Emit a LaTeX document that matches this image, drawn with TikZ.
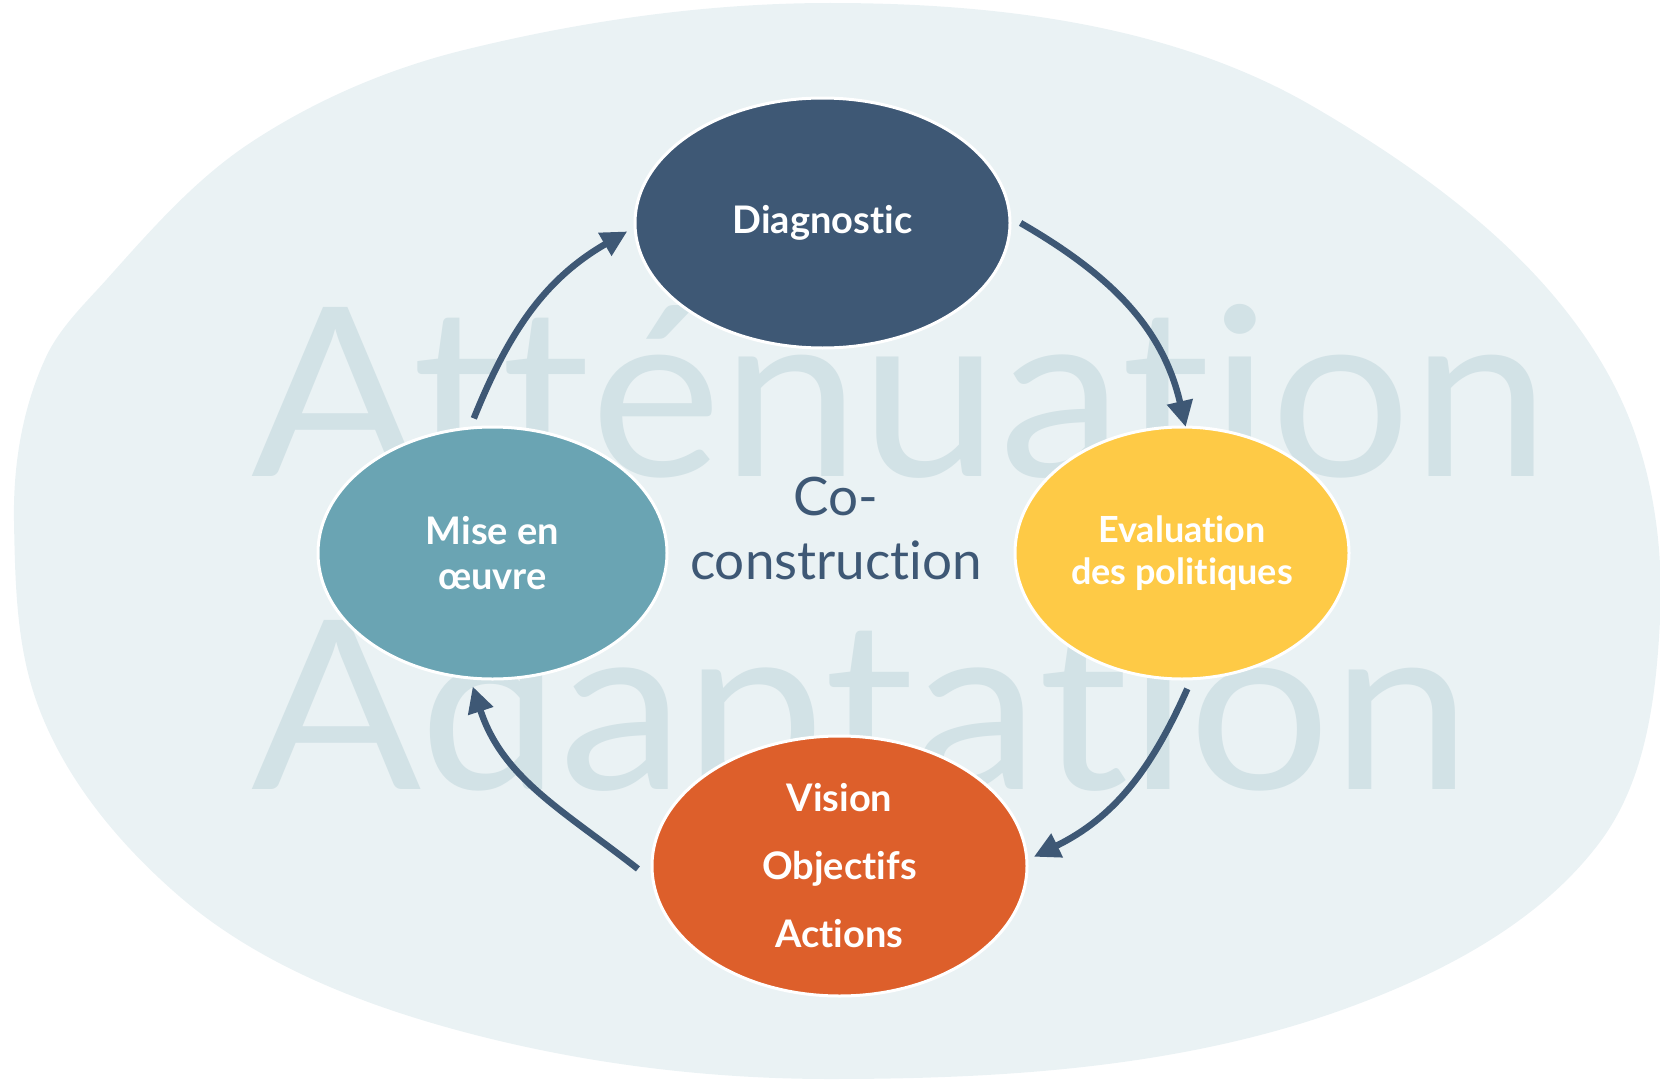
\documentclass[tikz,border=0pt]{standalone}
\usepackage{fontspec}
\usepackage{graphicx}
\setmainfont{Lato}[Ligatures=NoCommon]
\usetikzlibrary{arrows.meta,shapes.geometric}
\definecolor{blobc}{HTML}{EAF2F4}
\definecolor{wmark}{HTML}{D2E2E6}
\definecolor{navy}{HTML}{3E5875}
\definecolor{cteal}{HTML}{6AA4B3}
\definecolor{cyel}{HTML}{FECA46}
\definecolor{corange}{HTML}{DD5F2B}
\begin{document}
\begin{tikzpicture}[x=1pt,y=1pt,
  phase/.style={ellipse, draw=white, line width=3pt, inner sep=0pt, text=white, align=center,
    font=\bfseries\fontsize{38}{45}\selectfont},
  cyc/.style={draw=navy, line width=6.5pt, -{Triangle[length=26pt,width=25pt]}},
  wm/.style={text=wmark, inner sep=0pt, anchor=base west, font=\fontsize{236}{236}\selectfont}]
\useasboundingbox (0,0) rectangle (1660,-1081);
% background blob
\fill[blobc] (830,-3) .. controls (995,-3) and (1171.6,-23.8) .. (1314,-107)
  .. controls (1434,-177) and (1557,-268) .. (1618,-393)
  .. controls (1651.8,-462.2) and (1663.9,-543.1) .. (1660,-620)
  .. controls (1656.1,-696.9) and (1646.1,-780.3) .. (1600,-842)
  .. controls (1540.1,-922.1) and (1443.8,-972.4) .. (1350,-1007)
  .. controls (1185.8,-1067.6) and (1005,-1079) .. (830,-1079)
  .. controls (707,-1079) and (582.8,-1063.6) .. (464,-1032)
  .. controls (362.6,-1005) and (258.5,-964.7) .. (179,-896)
  .. controls (117.7,-843) and (62.7,-776.5) .. (36,-700)
  .. controls (16.2,-643.4) and (15.1,-581) .. (14,-521)
  .. controls (13,-465) and (22.3,-407.7) .. (46,-357)
  .. controls (60,-327.1) and (85,-303.6) .. (107,-279)
  .. controls (151,-229.8) and (195,-179.4) .. (250,-143)
  .. controls (315,-100) and (388.3,-68.6) .. (464,-50)
  .. controls (583.4,-20.6) and (707,-3) .. (830,-3) -- cycle;
% watermark words
\node[wm] (att) at (251,-476) {\resizebox{1298pt}{\height}{Atténuation}};
\node[wm] (ada) at (251,-789) {\resizebox{1220pt}{\height}{Adaptation}};
% phases
\node[phase, fill=navy, minimum width=375pt, minimum height=250pt] (diag) at (822.5,-223) {Diagnostic};
\node[phase, fill=cteal, minimum width=349pt, minimum height=252pt] (mise) at (492.5,-553) {Mise en\\œuvre};
\node[phase, fill=cyel, minimum width=334pt, minimum height=252pt,
  font=\bfseries\fontsize{36}{42}\selectfont] (eval) at (1182,-553) {Evaluation\\des politiques};
\node[phase, fill=corange, minimum width=375pt, minimum height=260pt,
  font=\bfseries\fontsize{38}{68}\selectfont] (vision) at (839.5,-866) {Vision\\Objectifs\\Actions};
% centre text
\node[text=navy, font=\fontsize{53}{64}\selectfont, align=center, inner sep=0pt] (cocon) at (836,-529) {Co-\\construction};
% cycle arrows
\coordinate (a1s) at (473.8,-418.4); \coordinate (a1e) at (627.3,-231.4);
\coordinate (a2s) at (1020.6,-223);  \coordinate (a2e) at (1185.7,-427);
\coordinate (a3s) at (1187.3,-688.8); \coordinate (a3e) at (1033.8,-856.8);
\coordinate (a4s) at (637.9,-868.9); \coordinate (a4e) at (472.7,-686.4);
\draw[cyc] (a1s) to[out=68, in=210] (a1e);
\draw[cyc] (a2s) to[out=-30, in=103] (a2e);
\draw[cyc] (a3s) to[out=-114, in=26] (a3e);
\draw[cyc] (a4s) to[out=142, in=-72] (a4e);
\end{tikzpicture}
\end{document}
